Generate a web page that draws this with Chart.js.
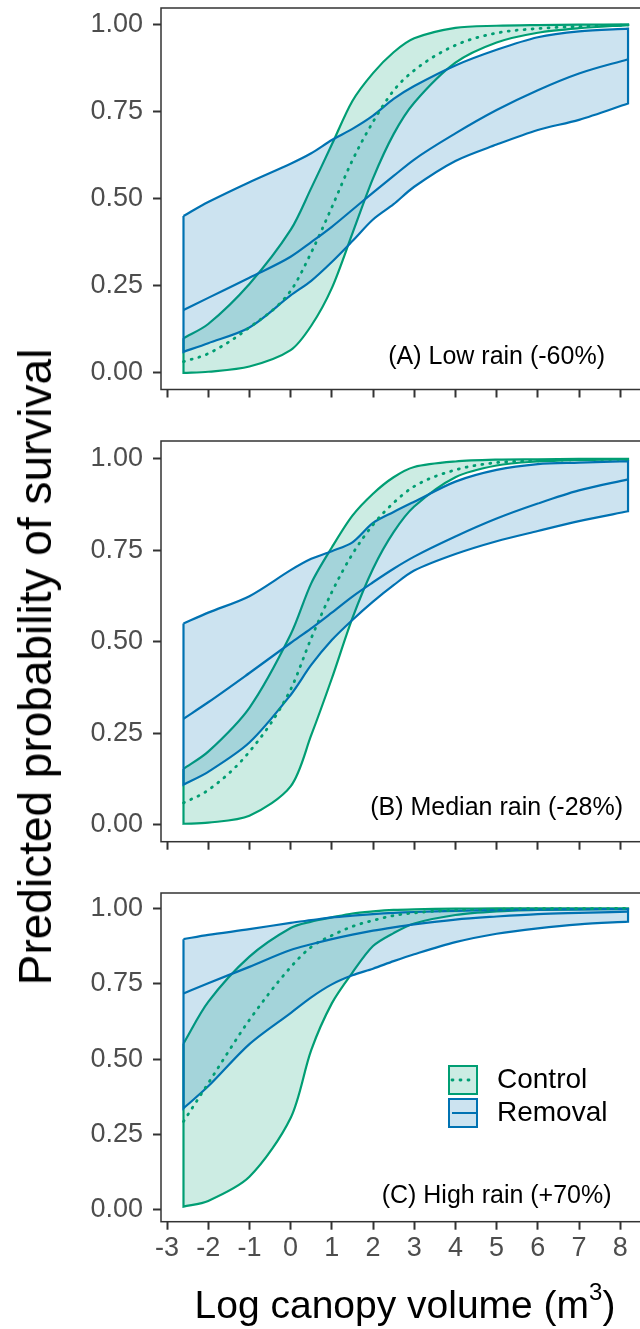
<!DOCTYPE html>
<html>
<head>
<meta charset="utf-8">
<script src="https://cdn.jsdelivr.net/npm/chart.js@4.4.1/dist/chart.umd.min.js"></script>
<style>
  html, body { margin: 0; padding: 0; background: #fff; overflow: hidden; width: 640px; height: 1329px; }
  #wrap { position: relative; width: 660px; height: 1329px; font-family: "Liberation Sans", Arial, sans-serif; }
  canvas { position: absolute; left: 0; }
  #ylab { position: absolute; left: 35px; top: 667px; transform: translate(-50%, -50%) rotate(-90deg);
          font-size: 46px; white-space: nowrap; color: #000; }
  #xlab { position: absolute; left: 405px; top: 1305px; transform: translate(-50%, -50%);
          font-size: 39px; white-space: nowrap; color: #000; }
  #xlab sup { font-size: 24px; vertical-align: 18px; line-height: 0; }
</style>
</head>
<body>
<div id="wrap">
  <canvas id="panelA" width="660" height="400" style="top:0px"></canvas>
  <canvas id="panelB" width="660" height="420" style="top:433px"></canvas>
  <canvas id="panelC" width="660" height="444" style="top:885px"></canvas>
  <div id="ylab">Predicted probability of survival</div>
  <div id="xlab">Log canopy volume (m<sup>3</sup>)</div>
</div>
<script>
const logVolume = [-2.6, -2, -1, 0, 0.5, 1, 1.5, 2, 2.5, 3, 4, 5, 6, 7, 8.19];

const xTickValues = [-3, -2, -1, 0, 1, 2, 3, 4, 5, 6, 7, 8];
const yTickValues = [0, 0.25, 0.5, 0.75, 1];
const yTickLabels = ["0.00", "0.25", "0.50", "0.75", "1.00"];

const seriesNames = ["Control", "Removal"];
const panelTitles = ["(A) Low rain (-60%)", "(B) Median rain (-28%)", "(C) High rain (+70%)"];

// (A) low rain
const lowCtrlLower = [0.0, 0.003, 0.018, 0.065, 0.135, 0.243, 0.40, 0.558, 0.685, 0.775, 0.89, 0.948, 0.976, 0.989, 0.998];
const lowCtrlMean  = [0.032, 0.055, 0.13, 0.235, 0.345, 0.475, 0.61, 0.72, 0.81, 0.868, 0.94, 0.975, 0.988, 0.994, 0.998];
const lowCtrlUpper = [0.099, 0.14, 0.255, 0.41, 0.53, 0.655, 0.78, 0.86, 0.92, 0.96, 0.99, 0.996, 0.998, 0.999, 1.0];
const lowRemLower  = [0.06, 0.085, 0.13, 0.222, 0.264, 0.318, 0.378, 0.44, 0.484, 0.534, 0.608, 0.655, 0.697, 0.726, 0.773];
const lowRemMean   = [0.18, 0.215, 0.273, 0.333, 0.375, 0.419, 0.468, 0.517, 0.565, 0.612, 0.687, 0.754, 0.811, 0.859, 0.90];
const lowRemUpper  = [0.45, 0.49, 0.547, 0.60, 0.63, 0.668, 0.70, 0.738, 0.786, 0.823, 0.882, 0.927, 0.963, 0.98, 0.988];

// (B) median rain
const medCtrlLower = [0.003, 0.006, 0.025, 0.105, 0.245, 0.40, 0.565, 0.70, 0.80, 0.87, 0.95, 0.982, 0.993, 0.997, 0.999];
const medCtrlMean  = [0.06, 0.095, 0.20, 0.37, 0.51, 0.636, 0.74, 0.82, 0.88, 0.925, 0.97, 0.99, 0.995, 0.998, 0.999];
const medCtrlUpper = [0.153, 0.20, 0.32, 0.52, 0.66, 0.758, 0.845, 0.905, 0.95, 0.978, 0.993, 0.998, 0.999, 1.0, 1.0];
const medRemLower  = [0.11, 0.145, 0.225, 0.355, 0.437, 0.505, 0.56, 0.61, 0.655, 0.695, 0.74, 0.775, 0.803, 0.83, 0.857];
const medRemMean   = [0.29, 0.335, 0.415, 0.497, 0.537, 0.58, 0.624, 0.663, 0.70, 0.733, 0.788, 0.837, 0.878, 0.914, 0.944];
const medRemUpper  = [0.55, 0.58, 0.625, 0.696, 0.727, 0.748, 0.772, 0.825, 0.855, 0.883, 0.938, 0.97, 0.986, 0.99, 0.994];

// (C) high rain
const highCtrlLower = [0.011, 0.03, 0.11, 0.305, 0.53, 0.685, 0.787, 0.875, 0.918, 0.95, 0.978, 0.99, 0.995, 0.997, 0.998];
const highCtrlMean  = [0.293, 0.42, 0.63, 0.805, 0.872, 0.91, 0.94, 0.96, 0.976, 0.985, 0.994, 0.997, 0.999, 0.999, 1.0];
const highCtrlUpper = [0.552, 0.69, 0.84, 0.935, 0.956, 0.97, 0.983, 0.99, 0.995, 0.997, 0.999, 1.0, 1.0, 1.0, 1.0];
const highRemLower  = [0.337, 0.41, 0.55, 0.653, 0.705, 0.748, 0.778, 0.80, 0.825, 0.848, 0.888, 0.916, 0.934, 0.947, 0.956];
const highRemMean   = [0.718, 0.752, 0.806, 0.862, 0.881, 0.898, 0.913, 0.926, 0.937, 0.947, 0.963, 0.973, 0.981, 0.985, 0.989];
const highRemUpper  = [0.898, 0.912, 0.931, 0.952, 0.961, 0.97, 0.976, 0.981, 0.985, 0.988, 0.992, 0.994, 0.996, 0.997, 0.998];

const GREEN = "#009E73";
const BLUE = "#0072B2";
const GREEN_FILL = "rgba(0, 158, 115, 0.2)";
const BLUE_FILL = "rgba(0, 114, 178, 0.2)";
const AXIS = "#333333";

Chart.defaults.font.family = "'Liberation Sans', Arial, sans-serif";

function line(values) {
  return logVolume.map((x, i) => ({ x: x, y: values[i] }));
}

// closed outline: upper edge forwards, lower edge backwards (corners doubled so they stay sharp)
function ribbon(lower, upper) {
  let n = logVolume.length - 1;
  let pts = line(upper);
  pts.push({ x: logVolume[n], y: upper[n] });
  for (let i = n; i >= 0; i--) {
    pts.push({ x: logVolume[i], y: lower[i] });
    if (i === n || i === 0) pts.push({ x: logVolume[i], y: lower[i] });
  }
  pts.push({ x: logVolume[0], y: upper[0] });
  return pts;
}

// keep the plot area exactly where layout padding puts it
function noScalePadding(s) {
  s.paddingTop = 0;
  s.paddingBottom = 0;
  s.paddingLeft = 0;
  s.paddingRight = 0;
}

// box round the panel and the rain label
const panelDeco = {
  id: "panelDeco",
  afterDatasetsDraw(chart, args, opts) {
    let ctx = chart.ctx;
    let a = chart.chartArea;
    ctx.save();
    ctx.strokeStyle = AXIS;
    ctx.lineWidth = 1.5;
    ctx.strokeRect(a.left, a.top, a.right - a.left, a.bottom - a.top);
    ctx.font = "25px 'Liberation Sans', Arial, sans-serif";
    ctx.fillStyle = "#000";
    ctx.textAlign = "center";
    ctx.textBaseline = "middle";
    ctx.fillText(opts.text, chart.scales.x.getPixelForValue(5), chart.scales.y.getPixelForValue(0.045));
    ctx.restore();
  }
};

const keyBoxes = {
  id: "keyBoxes",
  afterDatasetsDraw(chart, args, opts) {
    if (!opts.show) return;
    let ctx = chart.ctx;
    let looks = [
      { stroke: GREEN, fill: GREEN_FILL, dash: [1, 7] },
      { stroke: BLUE, fill: BLUE_FILL, dash: [] }
    ];
    ctx.save();
    looks.forEach((k, i) => {
      let x = opts.left, y = opts.top + i * (opts.size + 3);
      ctx.fillStyle = k.fill;
      ctx.fillRect(x, y, opts.size, opts.size);
      ctx.strokeStyle = k.stroke;
      ctx.lineWidth = 2;
      ctx.setLineDash([]);
      ctx.strokeRect(x + 1, y + 1, opts.size - 2, opts.size - 2);
      ctx.setLineDash(k.dash);
      ctx.lineCap = k.dash.length ? "round" : "butt";
      ctx.lineWidth = k.dash.length ? 2.8 : 2;
      ctx.beginPath();
      ctx.moveTo(x + 4, y + opts.size / 2);
      ctx.lineTo(x + opts.size - 2, y + opts.size / 2);
      ctx.stroke();
      ctx.setLineDash([]);
      ctx.fillStyle = "#000";
      ctx.font = "28px 'Liberation Sans', Arial, sans-serif";
      ctx.textAlign = "left";
      ctx.textBaseline = "middle";
      ctx.fillText(seriesNames[i], x + 49, y + opts.size / 2);
    });
    ctx.restore();
  }
};

function makePanel(id, ctrl, rem, yMin, yMax, title, showX, xHeight, showKey) {
  let ctx = document.getElementById(id).getContext("2d");
  return new Chart(ctx, {
    type: "line",
    data: {
      datasets: [
        { label: seriesNames[0], data: ribbon(ctrl[0], ctrl[2]), fill: "shape", backgroundColor: GREEN_FILL,
          borderColor: GREEN, borderWidth: 2.2, tension: 0.3, pointRadius: 0, order: 4 },
        { label: seriesNames[1], data: ribbon(rem[0], rem[2]), fill: "shape", backgroundColor: BLUE_FILL,
          borderColor: BLUE, borderWidth: 2.2, tension: 0.3, pointRadius: 0, order: 3 },
        { label: seriesNames[0] + " mean", data: line(ctrl[1]), fill: false, borderColor: GREEN, borderWidth: 2.8,
          borderDash: [1, 7], borderCapStyle: "round", cubicInterpolationMode: "monotone", pointRadius: 0, order: 2 },
        { label: seriesNames[1] + " mean", data: line(rem[1]), fill: false, borderColor: BLUE, borderWidth: 2.2,
          cubicInterpolationMode: "monotone", pointRadius: 0, order: 1 }
      ]
    },
    options: {
      responsive: false,
      animation: false,
      events: [],
      layout: { padding: { top: 8, right: 10, bottom: 0, left: 0 } },
      plugins: {
        legend: { display: false },
        tooltip: { enabled: false },
        panelDeco: { text: title },
        keyBoxes: { show: showKey, left: 448, top: 180, size: 30 }
      },
      scales: {
        x: {
          type: "linear",
          min: -3.146,
          max: 8.723,
          afterBuildTicks: (s) => { s.ticks = xTickValues.map(v => ({ value: v })); },
          afterFit: (s) => { s.height = xHeight; noScalePadding(s); },
          ticks: { display: showX, callback: (v) => String(v), font: { size: 27 }, color: "#4D4D4D",
                   padding: 3, maxRotation: 0, autoSkip: false },
          grid: { drawOnChartArea: false, drawTicks: true, tickLength: 8, tickColor: AXIS, tickWidth: 2 },
          border: { display: false }
        },
        y: {
          type: "linear",
          min: yMin,
          max: yMax,
          afterBuildTicks: (s) => { s.ticks = yTickValues.map(v => ({ value: v })); },
          afterFit: (s) => { s.width = 161; noScalePadding(s); },
          ticks: { callback: (v) => yTickLabels[yTickValues.indexOf(v)], font: { size: 27 }, color: "#4D4D4D",
                   padding: 10 },
          grid: { drawOnChartArea: false, drawTicks: true, tickLength: 8, tickColor: AXIS, tickWidth: 2 },
          border: { display: false }
        }
      }
    },
    plugins: [panelDeco, keyBoxes]
  });
}

makePanel("panelA", [lowCtrlLower, lowCtrlMean, lowCtrlUpper], [lowRemLower, lowRemMean, lowRemUpper],
  -0.048, 1.047, panelTitles[0], false, 10.5, false);
makePanel("panelB", [medCtrlLower, medCtrlMean, medCtrlUpper], [medRemLower, medRemMean, medRemUpper],
  -0.046, 1.049, panelTitles[1], false, 11.3, false);
makePanel("panelC", [highCtrlLower, highCtrlMean, highCtrlUpper], [highRemLower, highRemMean, highRemUpper],
  -0.039, 1.051, panelTitles[2], true, 107.3, true);
</script>
</body>
</html>
